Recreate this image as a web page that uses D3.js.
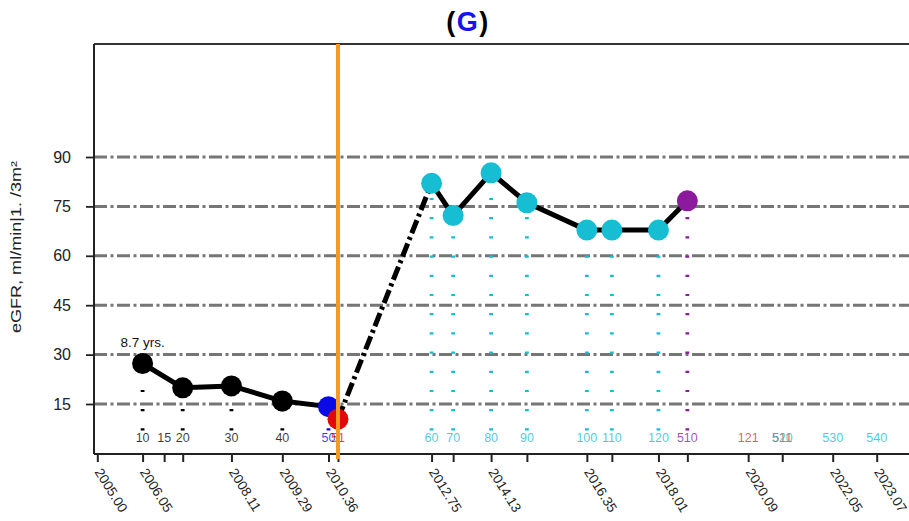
<!DOCTYPE html>
<html>
<head>
<meta charset="utf-8">
<script src="https://cdn.jsdelivr.net/npm/d3@7"></script>
<style>
  html, body { margin: 0; padding: 0; background: #fff; }
  svg { display: block; font-family: "Liberation Sans", Arial, sans-serif; }
</style>
</head>
<body>
<svg id="chart" width="909" height="521"></svg>
<script>
// ---------------- data ----------------
const pointDates  = [2006.05, 2006.98, 2008.11, 2009.29, 2010.36, 2010.58, 2012.75, 2013.25, 2014.13, 2014.96, 2016.35, 2016.93, 2018.01, 2018.68];
const egfrValues  = [27.3, 19.9, 20.5, 15.9, 14.2, 10.4, 82.0, 72.2, 85.2, 76.1, 67.8, 67.8, 67.8, 76.7];
const pointGroups = ["native", "native", "native", "native", "dialysis", "transplant", "graft", "graft", "graft", "graft", "graft", "graft", "graft", "rejection"];

const visitCodes  = ["10", "15", "20", "30", "40", "50", "51", "60", "70", "80", "90", "100", "110", "120", "510", "121", "511", "520", "530", "540"];
const visitDates  = [2006.05, 2006.55, 2006.98, 2008.11, 2009.29, 2010.36, 2010.58, 2012.75, 2013.25, 2014.13, 2014.96, 2016.35, 2016.93, 2018.01, 2018.68, 2020.09, 2020.88, 2020.88, 2022.05, 2023.07];
const visitGroups = ["native", "native", "native", "native", "native", "dialysis", "transplant", "graft", "graft", "graft", "graft", "graft", "graft", "graft", "rejection", "lost", "lost", "graft", "graft", "graft"];

const xTickValues = [2005.00, 2006.05, 2006.55, 2006.98, 2008.11, 2009.29, 2010.36, 2010.58, 2012.75, 2013.25, 2014.13, 2014.96, 2016.35, 2016.93, 2018.01, 2018.68, 2020.09, 2020.88, 2022.05, 2023.07];
const xTickLabels = ["2005.00", "2006.05", "", "", "2008.11", "2009.29", "2010.36", "", "2012.75", "", "2014.13", "", "2016.35", "", "2018.01", "", "2020.09", "", "2022.05", "2023.07"];
const yTickValues = [15, 30, 45, 60, 75, 90];

const transplantDate = 2010.58;
const durationNote = "8.7 yrs.";
const yTitle = "eGFR, ml/min|1. /3m\u00b2";

// ---------------- styles ----------------
const groupColor = {
  native: "#000000", dialysis: "#0a0ae6", transplant: "#e00808",
  graft: "#17bdd3", rejection: "#8c1a9c", lost: "#c23b3b"
};

// ---------------- layout ----------------
const svg = d3.select("#chart");
const plotLeft = 94, plotTop = 44, plotBottom = 454, plotRight = 920;

const x = d3.scaleLinear().domain([2005.00, 2023.07]).range([97.3, 876.7]);
const y = d3.scaleLinear().domain([0, 90]).range([453.4, 157]);

// title
const title = svg.append("text")
  .attr("x", 468).attr("y", 31)
  .attr("text-anchor", "middle")
  .attr("font-size", 27).attr("font-weight", "bold")
  .attr("letter-spacing", 1.5);
title.append("tspan").attr("fill", "#000").text("(");
title.append("tspan").attr("fill", "#1414f0").text("G");
title.append("tspan").attr("fill", "#000").text(")");

// grid lines
svg.append("g").selectAll("line").data(yTickValues).join("line")
  .attr("x1", plotLeft).attr("x2", plotRight)
  .attr("y1", d => y(d)).attr("y2", d => y(d))
  .attr("stroke", "#767676").attr("stroke-width", 3)
  .attr("stroke-dasharray", "13,3.5,3,3.5");

// vertical dotted drop lines from points
const pts = pointDates.map((d, i) => ({ t: d, v: egfrValues[i], g: pointGroups[i] }));
svg.append("g").selectAll("line").data(pts).join("line")
  .attr("x1", d => x(d.t)).attr("x2", d => x(d.t))
  .attr("y1", 430.5).attr("y2", d => y(d.v))
  .attr("stroke", d => groupColor[d.g])
  .attr("stroke-width", 3.8)
  .attr("stroke-dasharray", "2.2,17");

// connecting lines
const lineGen = d3.line().x(d => x(d.t)).y(d => y(d.v));
const preSeg = pts.slice(0, 5);
const bridgeSeg = pts.slice(5, 7);
const postSeg = pts.slice(6);
svg.append("path").datum(preSeg).attr("d", lineGen)
  .attr("fill", "none").attr("stroke", "#000").attr("stroke-width", 5).attr("stroke-linejoin", "round");
svg.append("path").datum(bridgeSeg).attr("d", lineGen)
  .attr("fill", "none").attr("stroke", "#000").attr("stroke-width", 5)
  .attr("stroke-dasharray", "14,4,3,4");
svg.append("path").datum(postSeg).attr("d", lineGen)
  .attr("fill", "none").attr("stroke", "#000").attr("stroke-width", 5).attr("stroke-linejoin", "round");

// points
svg.append("g").selectAll("circle").data(pts).join("circle")
  .attr("cx", d => x(d.t)).attr("cy", d => y(d.v)).attr("r", 10.5)
  .attr("fill", d => groupColor[d.g]);

// visit code labels
const visits = visitDates.map((d, i) => ({ t: d, c: visitCodes[i], g: visitGroups[i] }));
svg.append("g").selectAll("text").data(visits).join("text")
  .attr("x", d => x(d.t)).attr("y", 441.5)
  .attr("text-anchor", "middle")
  .attr("font-size", 12.5)
  .attr("fill", d => groupColor[d.g])
  .attr("fill-opacity", 0.78)
  .text(d => d.c);

// duration annotation
svg.append("text")
  .attr("x", x(pointDates[0])).attr("y", 347)
  .attr("text-anchor", "middle").attr("font-size", 13.5)
  .attr("fill", "#111")
  .text(durationNote);

// frame
svg.append("line").attr("x1", plotLeft).attr("x2", plotRight).attr("y1", plotTop).attr("y2", plotTop)
  .attr("stroke", "#333").attr("stroke-width", 2.2);
svg.append("line").attr("x1", plotLeft).attr("x2", plotLeft).attr("y1", plotTop).attr("y2", plotBottom)
  .attr("stroke", "#222").attr("stroke-width", 2);

// y axis
const yAxis = svg.append("g").attr("transform", `translate(${plotLeft},0)`)
  .call(d3.axisLeft(y).tickValues(yTickValues).tickSize(8).tickPadding(15).tickFormat(d3.format("d")));
yAxis.select(".domain").remove();
yAxis.selectAll("line").attr("stroke", "#222").attr("stroke-width", 1.8);
yAxis.selectAll("text").attr("font-size", 16).attr("fill", "#222")
  .attr("font-family", "Liberation Sans, Arial, sans-serif");

// x axis
const xAxis = svg.append("g").attr("transform", `translate(0,${plotBottom})`)
  .call(d3.axisBottom(x).tickValues(xTickValues).tickSize(8).tickFormat(() => ""));
xAxis.select(".domain").attr("d", `M${plotLeft},0H${plotRight}`).attr("stroke", "#222").attr("stroke-width", 2);
xAxis.selectAll(".tick line").attr("stroke", "#222").attr("stroke-width", 2);

svg.append("g").selectAll("text").data(xTickValues.map((v, i) => ({ v, l: xTickLabels[i] })).filter(d => d.l !== ""))
  .join("text")
  .attr("transform", d => `translate(${x(d.v) - 3},${plotBottom + 18}) rotate(58)`)
  .attr("text-anchor", "start")
  .attr("font-size", 13.5)
  .attr("fill", "#222")
  .text(d => d.l);

// transplant marker
svg.append("line")
  .attr("x1", x(transplantDate)).attr("x2", x(transplantDate))
  .attr("y1", plotTop).attr("y2", plotBottom + 5)
  .attr("stroke", "#f59a1e").attr("stroke-width", 4);

// y title
svg.append("text")
  .attr("transform", "translate(21,247) rotate(-90)")
  .attr("text-anchor", "middle")
  .attr("font-size", 14)
  .attr("fill", "#222")
  .attr("textLength", 172)
  .attr("lengthAdjust", "spacingAndGlyphs")
  .text(yTitle);
</script>
</body>
</html>
